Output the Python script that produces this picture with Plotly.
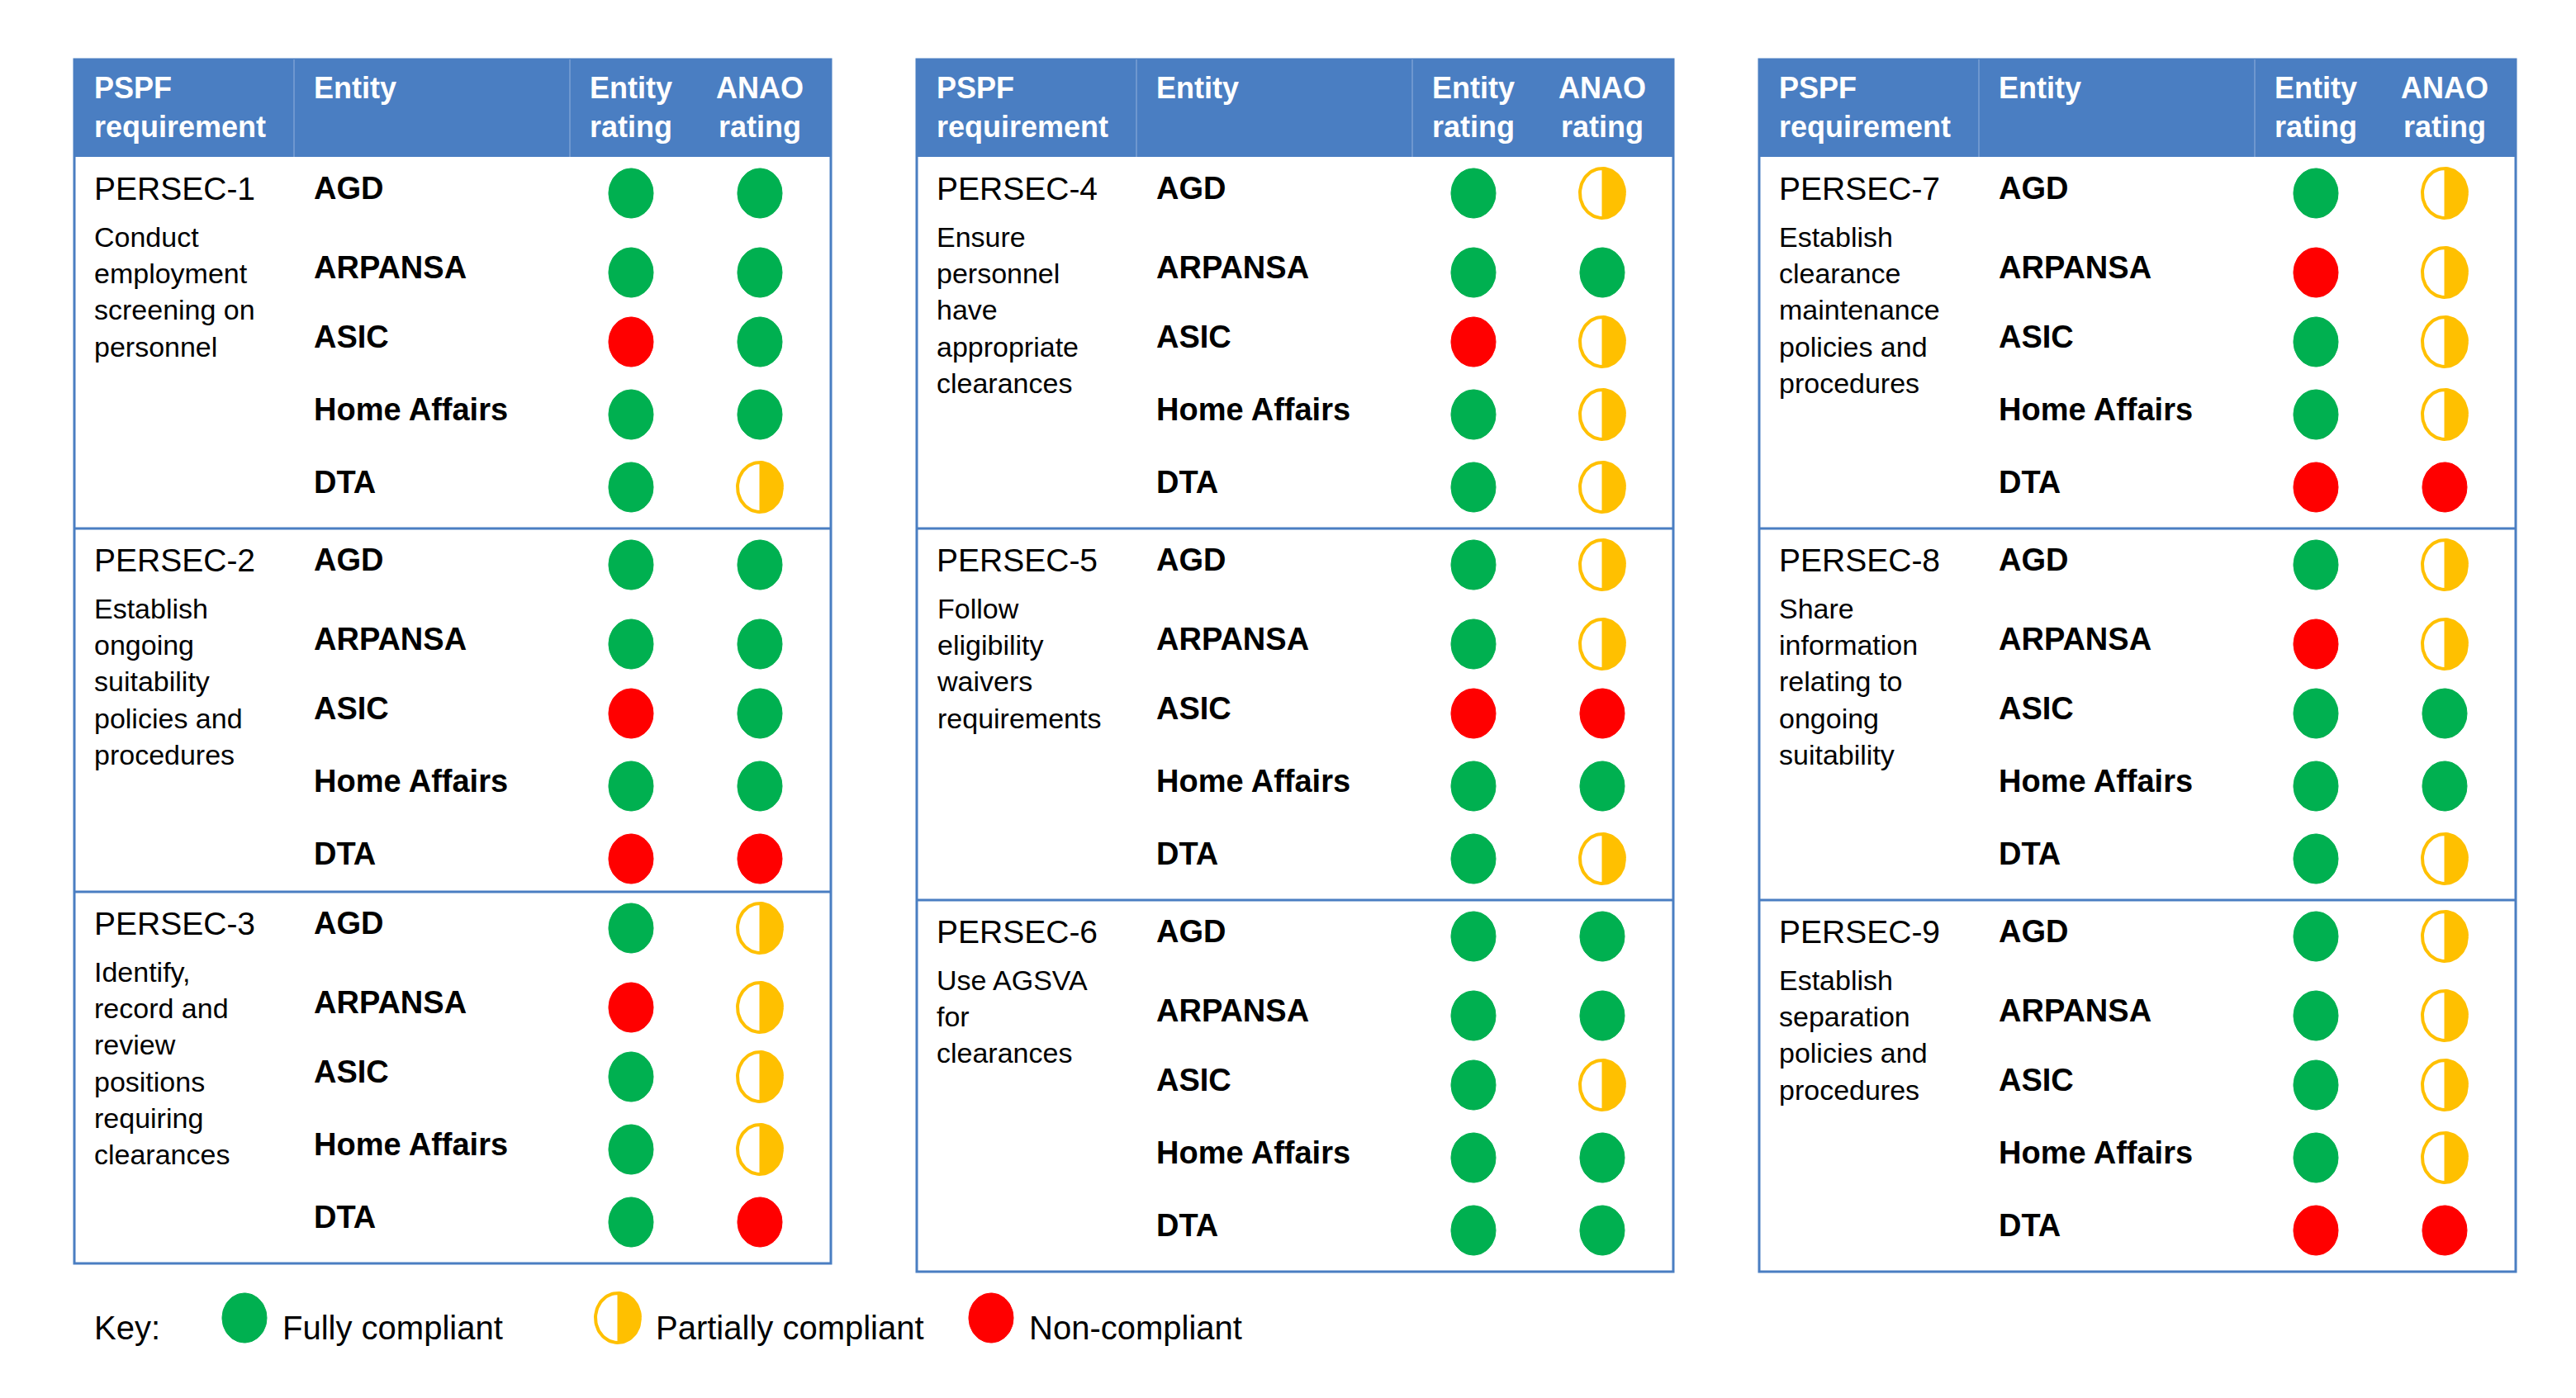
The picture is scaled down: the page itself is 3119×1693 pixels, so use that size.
import numpy as np
import plotly.graph_objects as go

requirements = ["PERSEC-1","PERSEC-2","PERSEC-3","PERSEC-4","PERSEC-5","PERSEC-6","PERSEC-7","PERSEC-8","PERSEC-9"]
descriptions = [
    "Conduct<br>employment<br>screening on<br>personnel",
    "Establish<br>ongoing<br>suitability<br>policies and<br>procedures",
    "Identify,<br>record and<br>review<br>positions<br>requiring<br>clearances",
    "Ensure<br>personnel<br>have<br>appropriate<br>clearances",
    "Follow<br>eligibility<br>waivers<br>requirements",
    "Use AGSVA<br>for<br>clearances",
    "Establish<br>clearance<br>maintenance<br>policies and<br>procedures",
    "Share<br>information<br>relating to<br>ongoing<br>suitability",
    "Establish<br>separation<br>policies and<br>procedures",
]
entities = ["AGD", "ARPANSA", "ASIC", "Home Affairs", "DTA"]
entity_ratings = [
    "GGRGG", "GGRGR", "GRGGG",
    "GGRGG", "GGRGG", "GGGGG",
    "GRGGR", "GRGGG", "GGGGR",
]
anao_ratings = [
    "GGGGP", "GGGGR", "PPPPR",
    "PGPPP", "PPRGP", "GGPGG",
    "PPPPR", "PPGGP", "PPPPR",
]
headers = ["PSPF<br>requirement", "Entity", "Entity<br>rating", "ANAO<br>rating"]
key_labels = ["Fully compliant", "Partially compliant", "Non-compliant"]

W, H = 3119, 1693
OFF = 8  # page body margin
BLUE = "#4A7EC2"
GREEN, RED, YEL = "#00B050", "#FF0000", "#FFC000"
FONT = "Liberation Sans"

panel_left = [90, 1110, 2130]
panel_w = 916
group_bounds = [[190, 640, 1080, 1530], [190, 640, 1090, 1540], [190, 640, 1090, 1540]]
row_off = [38, 134, 218, 306, 394]

fig = go.Figure()
shapes, anns = [], []
RX, RY = 27, 30
t = np.linspace(0, 2*np.pi, 80)

def dot(x, y, kind):
    if kind == "P":
        fig.add_trace(go.Scatter(x=x + RX*np.cos(t), y=y + RY*np.sin(t), mode="lines", fill="toself",
                                 fillcolor="white", line=dict(color=YEL, width=4), hoverinfo="skip", showlegend=False))
        th = np.linspace(-np.pi/2, np.pi/2, 40)
        fig.add_trace(go.Scatter(x=np.r_[x + RX*np.cos(th), x], y=np.r_[y + RY*np.sin(th), y - RY], mode="lines",
                                 fill="toself", fillcolor=YEL, line=dict(color=YEL, width=1), hoverinfo="skip", showlegend=False))
    else:
        c = GREEN if kind == "G" else RED
        fig.add_trace(go.Scatter(x=x + RX*np.cos(t), y=y + RY*np.sin(t), mode="lines", fill="toself",
                                 fillcolor=c, line=dict(color=c, width=1), hoverinfo="skip", showlegend=False))

def txt(x, y, s, size, color="black", bold=False, xa="left", ya="middle", align="left"):
    anns.append(dict(x=x, y=y, text=("<b>%s</b>" % s) if bold else s, showarrow=False, xanchor=xa, yanchor=ya,
                     align=align, font=dict(family=FONT, size=size, color=color)))

for p in range(3):
    L = panel_left[p]
    gb = group_bounds[p]
    shapes.append(dict(type="rect", x0=L, x1=L+panel_w, y0=72, y1=190, fillcolor=BLUE, line=dict(width=0), layer="below"))
    shapes.append(dict(type="rect", x0=L, x1=L+panel_w, y0=72, y1=gb[3], fillcolor="rgba(0,0,0,0)", line=dict(color=BLUE, width=3)))
    for dx in (266, 600):
        shapes.append(dict(type="line", x0=L+dx, x1=L+dx, y0=72, y1=190, line=dict(color="#6E97CF", width=2)))
    for g in (1, 2):
        shapes.append(dict(type="line", x0=L, x1=L+panel_w, y0=gb[g], y1=gb[g], line=dict(color=BLUE, width=3)))
    txt(L+22, 84, headers[0], 36, "white", True, ya="top")
    txt(L+288, 106, headers[1], 36, "white", True)
    txt(L+674, 84, headers[2], 36, "white", True, xa="center", ya="top", align="center")
    txt(L+830, 84, headers[3], 36, "white", True, xa="center", ya="top", align="center")
    for g in range(3):
        k = p*3 + g
        top = gb[g]
        txt(L+22, top+row_off[0], requirements[k], 39)
        txt(L+22, top+76, descriptions[k], 34, ya="top")
        for r, e in enumerate(entities):
            y = top + row_off[r]
            txt(L+288, y, e, 38, bold=True)
            dot(L+674, y+6, entity_ratings[k][r])
            dot(L+830, y+6, anao_ratings[k][r])

ky = 1608
txt(112, ky, "Key:", 40)
for (cx, tx), lab, kind in zip([(296, 340), (748, 792), (1200, 1244)], key_labels, "GPR"):
    dot(cx, ky-12, kind)
    txt(tx, ky, lab, 40)

fig.update_layout(width=W, height=H, margin=dict(l=0, r=0, t=0, b=0), plot_bgcolor="white", paper_bgcolor="white",
                  xaxis=dict(range=[OFF, W+OFF], visible=False, fixedrange=True),
                  yaxis=dict(range=[H+OFF, OFF], visible=False, fixedrange=True),
                  shapes=shapes, annotations=anns, showlegend=False)
fig.write_html("out.html", config={"displayModeBar": False})
